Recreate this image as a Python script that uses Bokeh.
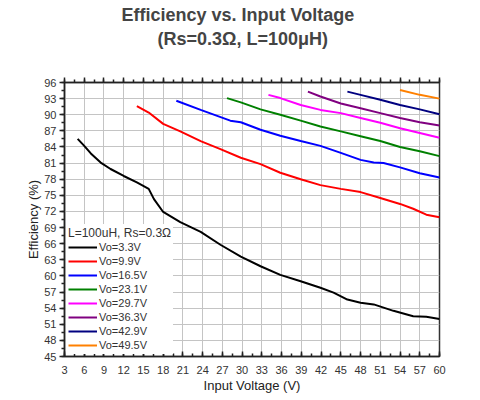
from bokeh.plotting import figure
from bokeh.models import (Range1d, LinearAxis, FixedTicker, Legend, LegendItem, Title)
from bokeh.embed import file_html
from bokeh.resources import INLINE

# data
x_33 = [5, 6, 7, 8.5, 10, 12, 14, 15.8, 16.6, 18, 20.6, 23.7, 26.7, 29.8, 32.8, 35.8,
        38.9, 41.9, 43.9, 46, 48, 50, 53, 56, 58, 60]
y_33 = [85.5, 84.2, 82.8, 81.1, 79.9, 78.6, 77.4, 76.2, 74.3, 71.9, 70.0, 68.2, 65.8, 63.6,
        61.8, 60.2, 59.0, 57.8, 56.9, 55.6, 55.0, 54.7, 53.5, 52.5, 52.4, 52.0]

x_99 = [14, 15.8, 18, 20.6, 23.7, 26.7, 29.8, 32.8, 35.8, 38.9, 41.9, 45, 48, 51, 54, 56, 58, 60]
y_99 = [91.6, 90.4, 88.3, 86.9, 85.1, 83.6, 82.0, 80.8, 79.2, 78.0, 76.9, 76.2, 75.6, 74.5,
        73.4, 72.5, 71.4, 70.9]

x_165 = [20, 23.7, 28.2, 29.8, 32.8, 35.8, 38.9, 41.9, 45, 48, 50, 51.5, 54, 57, 60]
y_165 = [92.6, 90.9, 88.9, 88.6, 87.2, 86.1, 85.1, 84.2, 82.9, 81.6, 81.1, 81.0, 80.2, 79.1, 78.3]

x_231 = [27.7, 29.8, 32.8, 35.8, 38.9, 41.9, 45, 48, 51, 54, 57, 60]
y_231 = [93.1, 92.3, 91.0, 90.0, 88.9, 87.8, 86.9, 86.0, 85.1, 84.0, 83.2, 82.3]

x_297 = [34, 35.8, 38.9, 41.9, 45, 48, 51, 54, 57, 60]
y_297 = [93.7, 93.1, 91.8, 90.9, 90.3, 89.4, 88.5, 87.5, 86.6, 85.7]

x_363 = [40, 41.9, 45, 48, 51, 54, 57, 60]
y_363 = [94.3, 93.4, 92.1, 91.2, 90.3, 89.4, 88.6, 88.0]

x_429 = [46, 48, 51, 54, 57, 60]
y_429 = [94.3, 93.7, 92.8, 91.8, 91.0, 90.1]

x_495 = [54, 57, 60]
y_495 = [94.6, 93.7, 93.0]

labels = ["Vo=3.3V", "Vo=9.9V", "Vo=16.5V", "Vo=23.1V", "Vo=29.7V", "Vo=36.3V", "Vo=42.9V", "Vo=49.5V"]
colors = ["#000000", "#ff0000", "#0000ff", "#008000", "#ff00ff", "#800080", "#000080", "#ff8000"]
series = [(x_33, y_33), (x_99, y_99), (x_165, y_165), (x_231, y_231),
          (x_297, y_297), (x_363, y_363), (x_429, y_429), (x_495, y_495)]

x_ticks = list(range(3, 61, 3))
y_ticks = list(range(45, 97, 3))
x_minor = [3 + 1.5 * i for i in range(39)]
y_minor = [45 + 1.5 * i for i in range(35)]

FONT = "Liberation Sans"

p = figure(width=476, height=396, title=None, toolbar_location=None, output_backend="svg",
           x_range=Range1d(3, 60), y_range=Range1d(45, 96),
           x_axis_label="Input Voltage (V)", y_axis_label="Efficiency (%)",
           min_border_left=64, min_border_right=37, min_border_top=79, min_border_bottom=40)

p.outline_line_color = "#333333"
p.outline_line_width = 1.5

for ax, ticks, minor in ((p.xaxis[0], x_ticks, x_minor), (p.yaxis[0], y_ticks, y_minor)):
    ax.ticker = FixedTicker(ticks=ticks, minor_ticks=minor)
    ax.major_label_text_font = FONT
    ax.major_label_text_font_size = "11px"
    ax.major_label_text_color = "#333333"
    ax.axis_label_text_font = FONT
    ax.axis_label_text_font_size = "13px"
    ax.axis_label_text_font_style = "normal"
    ax.axis_label_text_color = "#222222"
    ax.axis_line_color = "#222222"
    ax.axis_line_width = 1.5
    ax.major_tick_line_color = "#222222"
    ax.minor_tick_line_color = "#222222"
    ax.major_tick_line_width = 1.5
    ax.minor_tick_line_width = 1.5

# bottom axis: ticks inside
p.xaxis[0].major_tick_in = 5
p.xaxis[0].major_tick_out = 0
p.xaxis[0].minor_tick_in = 3
p.xaxis[0].minor_tick_out = 0
p.xaxis[0].major_label_standoff = 9
p.xaxis[0].axis_label_standoff = 1

# left axis: ticks outside
p.yaxis[0].major_tick_in = 0
p.yaxis[0].major_tick_out = 5
p.yaxis[0].minor_tick_in = 0
p.yaxis[0].minor_tick_out = 3
p.yaxis[0].major_label_standoff = 3
p.yaxis[0].axis_label_standoff = 0

# top axis: ticks only; a blank axis label keeps the titles clear of the frame
top = LinearAxis(ticker=FixedTicker(ticks=x_ticks, minor_ticks=x_minor))
top.major_label_overrides = {t: "" for t in x_ticks}
top.major_label_standoff = 0
top.axis_label = "\u00a0"
top.axis_label_text_font_size = "10px"
top.axis_label_standoff = 15
top.major_tick_in = 0
top.major_tick_out = 5
top.minor_tick_in = 0
top.minor_tick_out = 3
top.axis_line_color = "#222222"
top.axis_line_width = 1.5
top.major_tick_line_color = "#222222"
top.minor_tick_line_color = "#222222"
top.major_tick_line_width = 1.5
top.minor_tick_line_width = 1.5
p.add_layout(top, "above")

p.xgrid.ticker = FixedTicker(ticks=x_ticks)
p.ygrid.ticker = FixedTicker(ticks=y_ticks)
p.grid.grid_line_color = "#c4c4c4"
p.grid.grid_line_width = 1

items = []
for (xs, ys), lab, col in zip(series, labels, colors):
    r = p.line(xs, ys, line_color=col, line_width=2)
    items.append(LegendItem(label=lab, renderers=[r]))

legend = Legend(items=items, location="bottom_left", title="L=100uH, Rs=0.3\u03a9")
legend.title_text_font = FONT
legend.title_text_font_size = "12px"
legend.title_text_font_style = "normal"
legend.title_text_color = "#333333"
legend.title_standoff = 0
legend.label_text_font = FONT
legend.label_text_font_size = "11px"
legend.label_text_color = "#333333"
legend.glyph_width = 29
legend.glyph_height = 14
legend.label_height = 14
legend.label_standoff = 2
legend.spacing = 0
legend.padding = 2
legend.margin = 2
legend.border_line_alpha = 0
legend.background_fill_alpha = 1
p.add_layout(legend, "center")

p.add_layout(Title(text="(Rs=0.3\u03a9, L=100\u03bcH)", align="left", offset=93, text_font=FONT,
                   text_font_size="18px", text_font_style="bold", standoff=0), "above")
p.add_layout(Title(text="Efficiency vs. Input Voltage", align="left", offset=57, text_font=FONT,
                   text_font_size="18px", text_font_style="bold", standoff=4), "above")

open("out.html", "w").write(file_html(p, INLINE))
